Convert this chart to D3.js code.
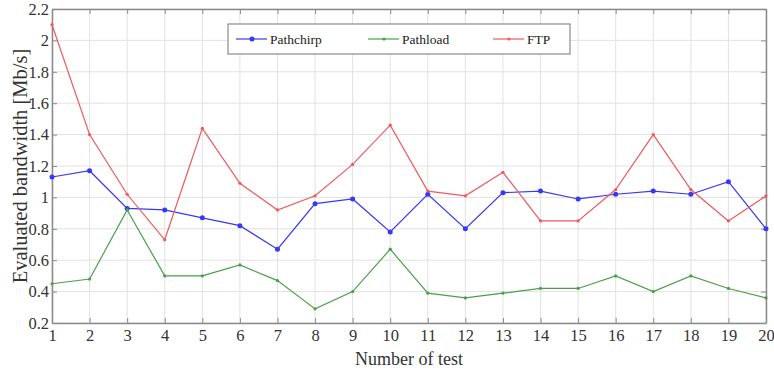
<!DOCTYPE html>
<html><head><meta charset="utf-8">
<script src="https://cdn.jsdelivr.net/npm/d3@7"></script>
<style>body{margin:0;background:#fff}svg{display:block}</style>
</head><body>
<svg id="c" width="774" height="370"></svg>
<script>
const tests = d3.range(1, 21);
const pathchirp = [1.13,1.17,0.93,0.92,0.87,0.82,0.67,0.96,0.99,0.78,1.02,0.80,1.03,1.04,0.99,1.02,1.04,1.02,1.10,0.80];
const pathload  = [0.45,0.48,0.92,0.50,0.50,0.57,0.47,0.29,0.40,0.67,0.39,0.36,0.39,0.42,0.42,0.50,0.40,0.50,0.42,0.36];
const ftp       = [2.10,1.40,1.02,0.73,1.44,1.09,0.92,1.01,1.21,1.46,1.04,1.01,1.16,0.85,0.85,1.05,1.40,1.05,0.85,1.01];
const yTicks = [0.2,0.4,0.6,0.8,1,1.2,1.4,1.6,1.8,2,2.2];
const seriesNames = ["Pathchirp","Pathload","FTP"];
const seriesColors = ["#3838f2","#4c9e4c","#ec5a5e"];

const svg = d3.select("#c");
const L = 52, R = 766, T = 9, B = 323;
const x = d3.scaleLinear().domain([1,20]).range([L,R]);
const y = d3.scaleLinear().domain([0.2,2.2]).range([B,T]);
const font = "'Liberation Serif','DejaVu Serif',serif";

// grid
const g = svg.append("g");
g.selectAll(".vg").data(tests).join("line")
  .attr("x1",d=>x(d)).attr("x2",d=>x(d)).attr("y1",T).attr("y2",B)
  .attr("stroke","#e2e2e2").attr("stroke-width",1);
g.selectAll(".hg").data(yTicks).join("line")
  .attr("y1",d=>y(d)).attr("y2",d=>y(d)).attr("x1",L).attr("x2",R)
  .attr("stroke","#e2e2e2").attr("stroke-width",1);

// axes
const ax = svg.append("g").attr("transform",`translate(0,${B})`)
  .call(d3.axisBottom(x).tickValues(tests).tickFormat(d3.format("d")).tickSizeInner(-5).tickSizeOuter(0).tickPadding(6));
const ay = svg.append("g").attr("transform",`translate(${L},0)`)
  .call(d3.axisLeft(y).tickValues(yTicks).tickFormat(d=>String(d)).tickSizeInner(-5).tickSizeOuter(0).tickPadding(3));
const axT = svg.append("g").attr("transform",`translate(0,${T})`)
  .call(d3.axisTop(x).tickValues(tests).tickFormat("").tickSizeInner(-5).tickSizeOuter(0));
const ayR = svg.append("g").attr("transform",`translate(${R},0)`)
  .call(d3.axisRight(y).tickValues(yTicks).tickFormat("").tickSizeInner(-5).tickSizeOuter(0));
[ax,ay,axT,ayR].forEach(a=>{
  a.attr("font-size",null);
  a.select(".domain").attr("stroke","#8a8a8a").attr("stroke-width",1.5);
  a.selectAll(".tick line").attr("stroke","#8a8a8a");
  a.selectAll("text").attr("font-family",font).style("font-size","16.5px").attr("fill","#333");
});

// lines
const data = [pathchirp, pathload, ftp];
const line = d3.line().x((d,i)=>x(tests[i])).y(d=>y(d));
data.forEach((s,k)=>{
  svg.append("path").datum(s).attr("d",line).attr("fill","none")
    .attr("stroke",seriesColors[k]).attr("stroke-width",1.2);
  svg.append("g").selectAll("circle").data(s).join("circle")
    .attr("cx",(d,i)=>x(tests[i])).attr("cy",d=>y(d))
    .attr("r", k===0 ? 2.5 : 1.6).attr("fill",seriesColors[k]);
});

// legend
const lg = svg.append("g");
lg.append("rect").attr("x",228).attr("y",24).attr("width",342).attr("height",30)
  .attr("fill","#fff").attr("stroke","#8a8a8a").attr("stroke-width",1.2);
const lx = [236, 368, 493];
seriesNames.forEach((n,k)=>{
  lg.append("line").attr("x1",lx[k]).attr("x2",lx[k]+31).attr("y1",39).attr("y2",39)
    .attr("stroke",seriesColors[k]).attr("stroke-width",1.2);
  lg.append("circle").attr("cx",lx[k]+16).attr("cy",39).attr("r",k===0?2.5:1.6).attr("fill",seriesColors[k]);
  lg.append("text").attr("x",lx[k]+34).attr("y",44).text(n)
    .attr("font-family",font).attr("font-size",13.5).attr("fill","#222");
});

// axis titles
svg.append("text").attr("x",(L+R)/2).attr("y",364.5).attr("text-anchor","middle")
  .attr("font-family",font).attr("font-size",18).attr("fill","#333").text("Number of test");
svg.append("text").attr("transform",`translate(27,${(T+B)/2}) rotate(-90)`).attr("text-anchor","middle")
  .attr("font-family",font).attr("font-size",20.5).attr("fill","#333").text("Evaluated bandwidth [Mb/s]");
</script>
</body></html>
